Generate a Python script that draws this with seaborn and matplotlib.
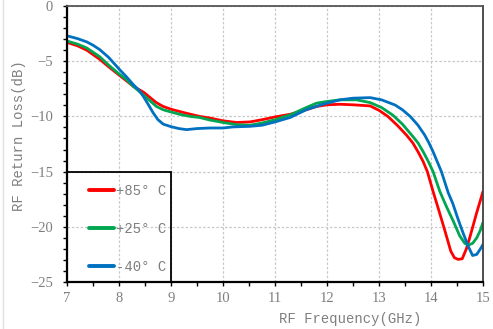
import numpy as np
import pandas as pd
import matplotlib
matplotlib.use("Agg")
import matplotlib.pyplot as plt
from matplotlib.lines import Line2D
from matplotlib.patches import Rectangle
import seaborn as sns

# ---- data ----
freq_85 = [7.0, 7.2, 7.38, 7.63, 7.8, 8.0, 8.15, 8.28, 8.47, 8.6, 8.72, 8.85, 9.0, 9.2,
           9.37, 9.55, 9.75, 10.0, 10.26, 10.52, 10.75, 11.0, 11.3, 11.6, 11.8, 12.0,
           12.25, 12.5, 12.83, 13.0, 13.17, 13.35, 13.53, 13.65, 13.75, 13.85, 13.93,
           14.04, 14.15, 14.27, 14.38, 14.45, 14.52, 14.6, 14.68, 14.75, 14.88, 15.0]
rl_85 = [-3.3, -3.6, -4.0, -4.83, -5.5, -6.25, -6.8, -7.3, -7.8, -8.3, -8.76, -9.1, -9.35, -9.6,
         -9.8, -10.0, -10.15, -10.4, -10.55, -10.5, -10.3, -10.05, -9.8, -9.4, -9.1, -8.95,
         -8.9, -8.95, -9.05, -9.45, -10.0, -10.8, -11.7, -12.4, -13.2, -14.1, -15.0,
         -16.8, -18.5, -20.4, -22.2, -22.8, -22.95, -22.9, -22.0, -20.9, -18.7, -16.8]

freq_25 = [7.0, 7.2, 7.38, 7.63, 7.8, 8.0, 8.15, 8.28, 8.47, 8.6, 8.72, 8.85, 9.0, 9.2,
           9.37, 9.55, 9.75, 10.0, 10.26, 10.52, 10.75, 11.0, 11.3, 11.6, 11.8, 12.0,
           12.25, 12.57, 12.83, 13.05, 13.27, 13.45, 13.63, 13.75, 13.85, 13.95, 14.04,
           14.17, 14.3, 14.43, 14.55, 14.65, 14.72, 14.8, 14.88, 14.95, 15.0]
rl_25 = [-3.17, -3.45, -3.8, -4.6, -5.35, -6.15, -6.7, -7.3, -8.06, -8.6, -9.1, -9.4, -9.6, -9.85,
         -10.0, -10.1, -10.33, -10.55, -10.75, -10.8, -10.6, -10.3, -9.85, -9.2, -8.8, -8.65,
         -8.5, -8.5, -8.75, -9.2, -9.9, -10.7, -11.7, -12.4, -13.2, -14.1, -15.0,
         -16.8, -18.2, -19.5, -20.8, -21.5, -21.65, -21.5, -21.0, -20.3, -19.6]

freq_m40 = [7.0, 7.2, 7.38, 7.5, 7.63, 7.8, 8.0, 8.15, 8.28, 8.38, 8.47, 8.56, 8.66, 8.75,
            8.85, 9.0, 9.15, 9.3, 9.5, 9.75, 10.0, 10.2, 10.52, 10.75, 11.0, 11.29, 11.6,
            11.92, 12.25, 12.5, 12.83, 13.05, 13.31, 13.45, 13.6, 13.75, 13.88, 13.96,
            14.04, 14.12, 14.2, 14.33, 14.42, 14.52, 14.62, 14.72, 14.8, 14.88, 14.95, 15.0]
rl_m40 = [-2.7, -2.95, -3.25, -3.55, -3.95, -4.65, -5.7, -6.45, -7.15, -7.6, -8.2, -8.9, -9.7, -10.3,
          -10.7, -10.93, -11.1, -11.2, -11.1, -11.05, -11.05, -10.95, -10.9, -10.8, -10.5, -10.1, -9.4,
          -8.9, -8.5, -8.35, -8.3, -8.5, -8.97, -9.4, -10.0, -10.8, -11.7, -12.4,
          -13.2, -14.1, -15.0, -16.9, -17.9, -19.3, -20.6, -21.8, -22.6, -22.5, -22.0, -21.6]

labels = ["+85° C", "+25° C", "-40° C"]
colors = ["#FF0000", "#00A650", "#0070C0"]

df = pd.concat([
    pd.DataFrame({"freq": freq_85, "rl": rl_85, "temp": labels[0]}),
    pd.DataFrame({"freq": freq_25, "rl": rl_25, "temp": labels[1]}),
    pd.DataFrame({"freq": freq_m40, "rl": rl_m40, "temp": labels[2]}),
], ignore_index=True)

sns.set_theme(style="white")
plt.rcParams["font.family"] = ["Liberation Mono", "DejaVu Sans Mono"]
text_gray = "#7f7f7f"

fig = plt.figure(figsize=(4.93, 3.29), dpi=100)
ax = fig.add_axes([67 / 493, 1 - 282 / 329, (483 - 67) / 493, (282 - 6) / 329])

sns.lineplot(data=df, x="freq", y="rl", hue="temp", palette=colors,
             hue_order=labels, sort=False, estimator=None, linewidth=2.0, ax=ax,
             legend=False)

ax.set_xlim(7, 15)
ax.set_ylim(-25, 0)
ax.set_xticks(np.arange(7, 15.01, 1))
ax.set_xticks(np.arange(7, 15.01, 0.5), minor=True)
ax.set_yticks(np.arange(-25, 0.01, 5))
ax.set_yticks(np.arange(-25, 0.01, 1), minor=True)
ax.set_yticklabels(["\u221225", "\u221220", "\u221215", "\u221210", "\u22125", "0"])
for lab in ax.get_xticklabels() + ax.get_yticklabels():
    lab.set_fontfamily(["Liberation Serif", "DejaVu Serif"])

ax.grid(True, which="major", color="#c8c8c8", linestyle=(0, (2, 1.5)), linewidth=0.9)
ax.tick_params(which="both", direction="out", length=3, width=1, colors="black",
               labelcolor=text_gray, labelsize=10.5, bottom=True, left=True)
ax.tick_params(axis="x", pad=4)
ax.tick_params(axis="y", pad=7)

for side in ["left", "bottom"]:
    ax.spines[side].set_color("black")
    ax.spines[side].set_linewidth(1.6)
ax.spines["top"].set_color("#555555")
ax.spines["top"].set_linewidth(1.3)
ax.spines["right"].set_color("#404040")
ax.spines["right"].set_linewidth(1.3)

ax.set_xlabel("RF Frequency(GHz)", color=text_gray, fontsize=10)
ax.set_ylabel("RF Return Loss(dB)", color=text_gray, fontsize=10)
ax.xaxis.set_label_coords(0.68, -0.11)
ax.yaxis.set_label_coords(-0.098, 0.53)

# legend box (transparent, outlined) in the lower-left corner
ax.add_patch(Rectangle((7, -25), 2, 10, fill=False, edgecolor="black",
                       linewidth=1.3, zorder=4))
handles = [Line2D([0], [0], color=c, linewidth=2.8) for c in colors]
leg = ax.legend(handles, labels, loc="upper left", bbox_to_anchor=(0.053, 0.356),
                frameon=False, borderpad=0, borderaxespad=0, handlelength=1.8,
                handletextpad=0.15, labelspacing=1.75, fontsize=10, labelcolor=text_gray)

# faint left border of the figure
fig.add_artist(Line2D([2.5 / 493, 2.5 / 493], [0, 1], transform=fig.transFigure,
                      color="#e0e0e0", linewidth=1))

fig.savefig("out.png", dpi=100)
